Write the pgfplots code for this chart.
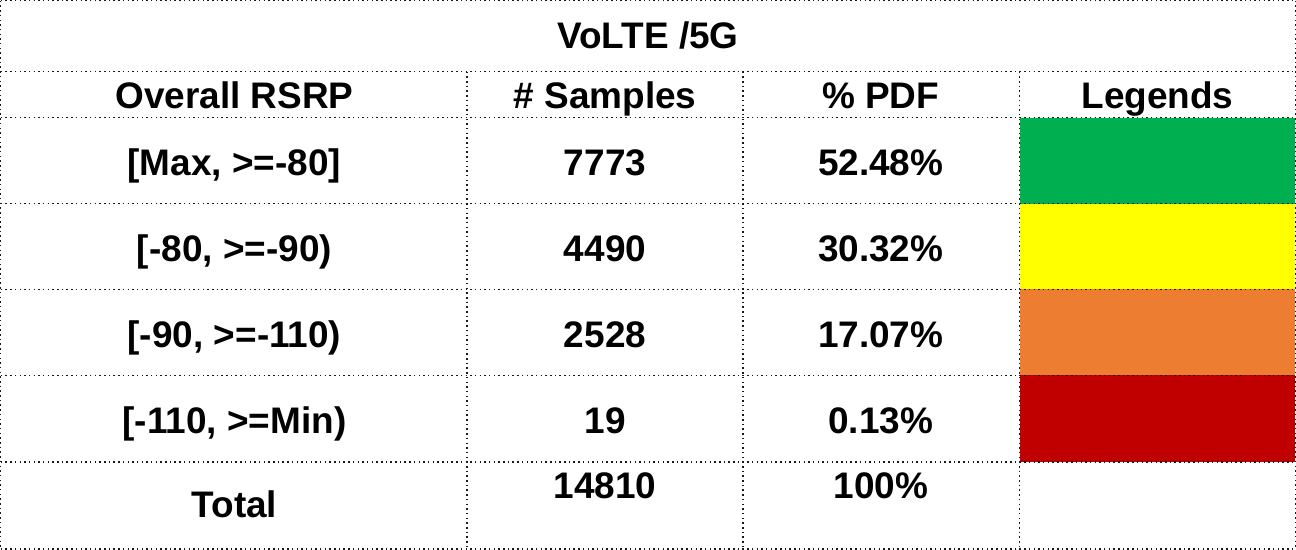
\documentclass[border=0pt]{standalone}
\usepackage{fontspec}
\setmainfont{Liberation Sans}
\usepackage{pgfplots}
\pgfplotsset{compat=1.18}
\definecolor{cgreen}{HTML}{00B050}
\definecolor{cyellow}{HTML}{FFFF00}
\definecolor{corange}{HTML}{ED7D31}
\definecolor{cred}{HTML}{C00000}
\tikzset{
  gl/.style={black!90, line width=0.75pt, dash pattern=on 0.75pt off 1.6pt},
  cell/.style={font=\fontsize{18.5}{22}\selectfont\bfseries, anchor=base, inner sep=0pt},
}
\begin{document}
\begin{tikzpicture}
\begin{axis}[
  width=648pt, height=274.5pt, scale only axis,
  xmin=0, xmax=1296, ymin=0, ymax=549, y dir=reverse,
  hide axis, clip=false,
]
% legend colour cells
\addplot[fill=cgreen, draw=none] coordinates {(1020,117) (1296,117) (1296,203) (1020,203)} -- cycle;
\addplot[fill=cyellow, draw=none] coordinates {(1020,203) (1296,203) (1296,289) (1020,289)} -- cycle;
\addplot[fill=corange, draw=none] coordinates {(1020,289) (1296,289) (1296,375) (1020,375)} -- cycle;
\addplot[fill=cred, draw=none] coordinates {(1020,375) (1296,375) (1296,462) (1020,462)} -- cycle;
% grid lines
\addplot[gl] coordinates {(0,0) (1296,0)};
\addplot[gl] coordinates {(0,71) (1296,71)};
\addplot[gl] coordinates {(0,117) (1296,117)};
\addplot[gl] coordinates {(0,203) (1296,203)};
\addplot[gl] coordinates {(0,289) (1296,289)};
\addplot[gl] coordinates {(0,375) (1296,375)};
\addplot[gl] coordinates {(0,462) (1296,462)};
\addplot[gl] coordinates {(0,549) (1296,549)};
\addplot[gl] coordinates {(0,0) (0,549)};
\addplot[gl] coordinates {(1296,0) (1296,549)};
\addplot[gl] coordinates {(467,71) (467,549)};
\addplot[gl] coordinates {(743,71) (743,549)};
\addplot[gl] coordinates {(1020,71) (1020,549)};
% text
\node[cell] at (axis cs:648,48) {VoLTE /5G};
\node[cell] at (axis cs:234,108) {Overall RSRP};
\node[cell] at (axis cs:605,108) {\# Samples};
\node[cell] at (axis cs:881,108) {\% PDF};
\node[cell] at (axis cs:1158,108) {Legends};
\node[cell] at (axis cs:234,175) {[Max, >=-80]};
\node[cell] at (axis cs:605,175) {7773};
\node[cell] at (axis cs:881,175) {52.48\%};
\node[cell] at (axis cs:234,261) {[-80, >=-90)};
\node[cell] at (axis cs:605,261) {4490};
\node[cell] at (axis cs:881,261) {30.32\%};
\node[cell] at (axis cs:234,347) {[-90, >=-110)};
\node[cell] at (axis cs:605,347) {2528};
\node[cell] at (axis cs:881,347) {17.07\%};
\node[cell] at (axis cs:234,433) {[-110, >=Min)};
\node[cell] at (axis cs:605,433) {19};
\node[cell] at (axis cs:881,433) {0.13\%};
\node[cell] at (axis cs:234,517) {Total};
\node[cell] at (axis cs:605,498) {14810};
\node[cell] at (axis cs:881,498) {100\%};
\end{axis}
\end{tikzpicture}
\end{document}
